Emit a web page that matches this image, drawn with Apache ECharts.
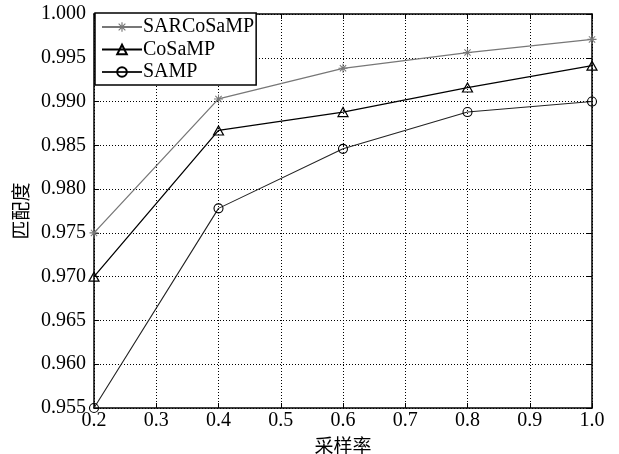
<!DOCTYPE html>
<html><head><meta charset="utf-8">
<script src="https://cdn.jsdelivr.net/npm/echarts@6/dist/echarts.min.js"></script>
<style>html,body{margin:0;padding:0;background:#fff}#c{width:619px;height:454px}</style>
</head><body><div id="c"></div>
<script>
const xValues = [0.2, 0.4, 0.6, 0.8, 1.0];
const sarcosamp = [0.9750, 0.9903, 0.9938, 0.9956, 0.9971];
const cosamp = [0.9700, 0.9867, 0.9888, 0.9916, 0.9941];
const samp = [0.9550, 0.9778, 0.9846, 0.9888, 0.9900];
const seriesNames = ['SARCoSaMP', 'CoSaMP', 'SAMP'];
const xName = '采样率';
const yName = '匹配度';

const star = 'path://M-0.6,-5L0.6,-5L0.6,5L-0.6,5Z M-5,-0.6L5,-0.6L5,0.6L-5,0.6Z M-3.9,-3.1L-3.1,-3.9L3.9,3.1L3.1,3.9Z M3.1,-3.9L3.9,-3.1L-3.1,3.9L-3.9,3.1Z';
const font = '"Liberation Serif","Times New Roman",serif';
const cjk = '"Noto Sans CJK SC",sans-serif';

function pairs(ys){ return xValues.map((x,i)=>[x, ys[i]]); }

const chart = echarts.init(document.getElementById('c'));
const gridStyle = {show:true, lineStyle:{color:'#000', type:[1,2], width:1}};
chart.setOption({
  animation:false,
  backgroundColor:'#fff',
  grid:{left:94, right:27, top:14, bottom:46, containLabel:false, outerBoundsMode:'none'},
  legend:{
    left:95, top:13, orient:'vertical',
    backgroundColor:'#fff', borderColor:'#000', borderWidth:1.5, borderRadius:0,
    padding:[4,2,3,6], itemGap:2.5, itemWidth:40, itemHeight:12,
    textStyle:{fontFamily:font, fontSize:20, color:'#000', padding:[0,0,0,-4]},
    data:seriesNames
  },
  xAxis:[{
    type:'value', min:0.2, max:1.0, interval:0.1, position:'bottom',
    name:xName, nameLocation:'middle', nameGap:22,
    nameTextStyle:{fontFamily:cjk, fontSize:19, color:'#000'},
    axisLine:{show:true, onZero:false, lineStyle:{color:'#000', width:1.5}},
    axisTick:{show:true, inside:true, length:5, lineStyle:{color:'#000'}},
    axisLabel:{fontFamily:font, fontSize:20, color:'#000', margin:3, formatter:v=>v.toFixed(1)},
    splitLine:gridStyle
  },{
    type:'value', min:0.2, max:1.0, interval:0.1, position:'top',
    axisLine:{show:true, onZero:false, lineStyle:{color:'#000', width:1.5}},
    axisTick:{show:true, inside:true, length:5, lineStyle:{color:'#000'}},
    axisLabel:{show:false}, splitLine:{show:false}
  }],
  yAxis:[{
    type:'value', min:0.955, max:1.0, interval:0.005, position:'left',
    name:yName, nameLocation:'middle', nameGap:60, nameRotate:90,
    nameTextStyle:{fontFamily:cjk, fontSize:19, color:'#000'},
    axisLine:{show:true, onZero:false, lineStyle:{color:'#000', width:1.5}},
    axisTick:{show:true, inside:true, length:5, lineStyle:{color:'#000'}},
    axisLabel:{fontFamily:font, fontSize:20, color:'#000', margin:8, formatter:v=>v.toFixed(3)},
    splitLine:gridStyle
  },{
    type:'value', min:0.955, max:1.0, interval:0.005, position:'right',
    axisLine:{show:true, onZero:false, lineStyle:{color:'#000', width:1.5}},
    axisTick:{show:true, inside:true, length:5, lineStyle:{color:'#000'}},
    axisLabel:{show:false}, splitLine:{show:false}
  }],
  series:[
    {name:seriesNames[0], type:'line', data:pairs(sarcosamp), symbol:star, symbolSize:9,
     lineStyle:{color:'#777', width:1.3}, itemStyle:{color:'#777'}},
    {name:seriesNames[1], type:'line', data:pairs(cosamp), symbol:'triangle', symbolSize:[10,9],
     lineStyle:{color:'#000', width:1.3}, itemStyle:{color:'none', borderColor:'#000', borderWidth:1.2}},
    {name:seriesNames[2], type:'line', data:pairs(samp), symbol:'circle', symbolSize:9,
     lineStyle:{color:'#222', width:1.1}, itemStyle:{color:'none', borderColor:'#000', borderWidth:1.1}}
  ]
});
</script></body></html>
